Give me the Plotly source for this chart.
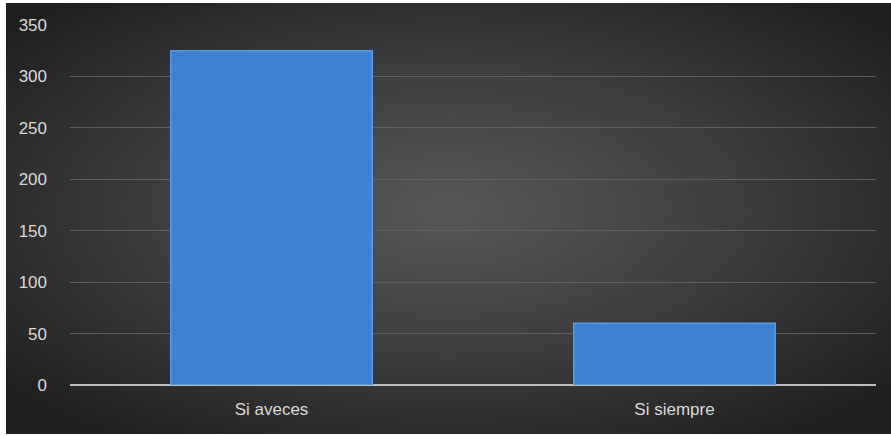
import base64
import plotly.graph_objects as go

categories = ["Si aveces", "Si siempre"]
values = [325, 60]
y_ticks = [0, 50, 100, 150, 200, 250, 300, 350]

svg = """<svg xmlns='http://www.w3.org/2000/svg' width='885' height='431' viewBox='0 0 885 431' preserveAspectRatio='none'>
<defs><radialGradient id='g' cx='50%' cy='48%' r='65%'>
<stop offset='0' stop-color='#575757'/>
<stop offset='0.55' stop-color='#3b3b3b'/>
<stop offset='1' stop-color='#1f1f1f'/>
</radialGradient></defs>
<rect width='885' height='431' fill='url(#g)'/></svg>"""
src = "data:image/svg+xml;base64," + base64.b64encode(svg.encode()).decode()

fig = go.Figure()
fig.add_trace(go.Bar(
    x=categories, y=values, width=0.5,
    marker=dict(color="#3f80d2", line=dict(color="#5d9ae6", width=1.5)),
    hoverinfo="skip",
))

L, R, T, B = 70, 15, 25, 51
W, H = 891 - L - R, 436 - T - B

fig.add_layout_image(dict(
    source=src, xref="paper", yref="paper",
    x=(6 - L) / W, y=(H + T - 3) / H,
    sizex=(891 - 6) / W, sizey=(434 - 3) / H,
    xanchor="left", yanchor="top", sizing="stretch", layer="below",
))

fig.update_layout(
    width=891, height=436,
    margin=dict(l=L, r=R, t=T, b=B),
    paper_bgcolor="white", plot_bgcolor="rgba(0,0,0,0)",
    showlegend=False,
    font=dict(family="Liberation Sans, Arial, sans-serif", color="#d9d9d9", size=17),
    xaxis=dict(
        showgrid=False, showline=False, zeroline=False,
        ticks="", ticklabelstandoff=12,
        tickfont=dict(size=17, color="#d9d9d9"),
    ),
    yaxis=dict(
        range=[0, 350], tickvals=y_ticks,
        showgrid=True, gridcolor="#5e5e5e", gridwidth=1,
        zeroline=True, zerolinecolor="#bdbdbd", zerolinewidth=2,
        showline=False, ticks="", ticklabelstandoff=22,
        tickfont=dict(size=17, color="#d9d9d9"),
    ),
)

fig.write_html(
    "out.html",
    config={"displayModeBar": False},
    post_script="document.body.style.margin='0';document.body.style.overflow='hidden';",
)
